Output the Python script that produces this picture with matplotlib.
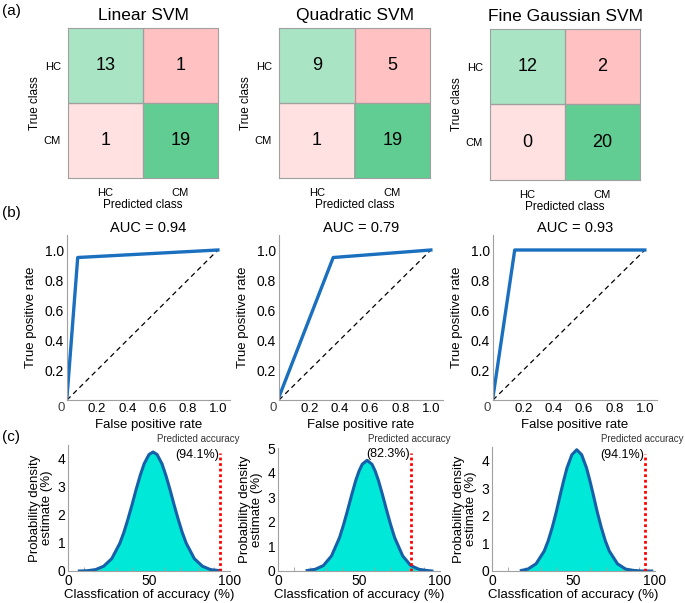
import matplotlib.pyplot as plt
from matplotlib.colors import ListedColormap

plt.rcParams['font.family'] = ['Liberation Sans', 'DejaVu Sans']

# --- data ---
models = ['Linear SVM', 'Quadratic SVM', 'Fine Gaussian SVM']
classes = ['HC', 'CM']
conf_linear = [[13, 1], [1, 19]]
conf_quadratic = [[9, 5], [1, 19]]
conf_gaussian = [[12, 2], [0, 20]]

fpr_linear = [0, 0.071, 1.0]
tpr_linear = [0.02, 0.95, 1.0]
fpr_quadratic = [0, 0.357, 1.0]
tpr_quadratic = [0.02, 0.95, 1.0]
fpr_gaussian = [0, 0.143, 1.0]
tpr_gaussian = [0.02, 1.0, 1.0]
auc = [0.94, 0.79, 0.93]

acc_x_linear = [7, 12, 17, 22, 27, 32, 34.5, 37, 39.5, 42, 44.5, 47, 50, 52.5, 55, 58,
                60.5, 63, 65.5, 68, 70.5, 73, 78, 83, 88, 94]
acc_y_linear = [0.0, 0.01, 0.05, 0.17, 0.44, 0.99, 1.38, 1.85, 2.36, 2.90, 3.40, 3.83,
                4.16, 4.25, 4.16, 3.83, 3.40, 2.90, 2.36, 1.85, 1.38, 0.99, 0.44, 0.17,
                0.05, 0.01]
acc_x_quadratic = [18, 23, 28, 33, 38, 40.5, 43, 45.5, 48, 50, 52, 55, 58, 60, 62, 64.5,
                   67, 69.5, 72, 77, 82, 87, 92, 95]
acc_y_quadratic = [0.02, 0.07, 0.22, 0.61, 1.36, 1.89, 2.48, 3.10, 3.68, 4.06, 4.34, 4.50,
                   4.34, 4.06, 3.68, 3.10, 2.48, 1.89, 1.36, 0.61, 0.22, 0.07, 0.02, 0.0]
acc_x_gaussian = [18, 22, 27, 32, 34.5, 37, 39.5, 42, 44, 46, 49, 52, 55, 58, 60, 62,
                  64.5, 67, 69.5, 72, 77, 82, 87, 92, 98]
acc_y_gaussian = [0.02, 0.07, 0.26, 0.72, 1.10, 1.59, 2.16, 2.80, 3.29, 3.74, 4.22, 4.40,
                  4.22, 3.74, 3.29, 2.80, 2.16, 1.59, 1.10, 0.72, 0.26, 0.07, 0.02, 0.0,
                  0.0]
predicted_acc = [94.1, 82.3, 94.1]
pred_line_top = [4.2, 4.8, 4.25]
density_ymax = [4.5, 5, 4.5]

confs = [conf_linear, conf_quadratic, conf_gaussian]
rocs = [(fpr_linear, tpr_linear), (fpr_quadratic, tpr_quadratic), (fpr_gaussian, tpr_gaussian)]
dens = [(acc_x_linear, acc_y_linear), (acc_x_quadratic, acc_y_quadratic),
        (acc_x_gaussian, acc_y_gaussian)]

W, H = 685, 603
fig = plt.figure(figsize=(W / 100, H / 100), dpi=100)


def box(l, t, r, b):
    return [l / W, 1 - b / H, (r - l) / W, (b - t) / H]


cm_boxes = [(68, 28, 218, 178), (279, 28, 430, 178), (490, 29, 640, 180)]
roc_boxes = [(67, 235, 230, 400), (279, 235, 443, 400), (493, 235, 657, 400)]
den_boxes = [(68, 445, 230, 571), (278, 448, 440, 571), (492, 447, 655, 571)]

cell_cmap = ListedColormap(['#a9e5c5', '#ffc1c1', '#ffe1e1', '#62cd92'])
gray = '#a0a0a0'

# (a) confusion matrices
for i in range(3):
    ax = fig.add_axes(box(*cm_boxes[i]))
    ax.imshow([[0, 1], [2, 3]], cmap=cell_cmap, vmin=0, vmax=3, aspect='auto')
    for r in range(2):
        for c in range(2):
            ax.text(c, r, str(confs[i][r][c]), ha='center', va='center', fontsize=13)
    ax.axhline(0.5, color=gray, lw=1)
    ax.axvline(0.5, color=gray, lw=1)
    for s in ax.spines.values():
        s.set_color(gray)
    ax.set_xticks([0, 1])
    ax.set_xticklabels(classes, fontsize=8)
    ax.set_yticks([0, 1])
    ax.set_yticklabels(classes, fontsize=8)
    ax.tick_params(length=0, pad=5)
    ax.tick_params(axis='x', pad=7)
    ax.set_xlabel('Predicted class', fontsize=8.5, labelpad=1)
    ax.set_ylabel('True class', fontsize=8.5, labelpad=2)
    ax.set_title(models[i], fontsize=12.5, pad=6)

# (b) ROC curves
for i in range(3):
    ax = fig.add_axes(box(*roc_boxes[i]))
    ax.plot([0, 1], [0, 1], 'k--', lw=0.9, dashes=(4, 3))
    ax.plot(rocs[i][0], rocs[i][1], color='#1a6fbf', lw=2.4)
    ax.set_xlim(0, 1.08)
    ax.set_ylim(0, 1.1)
    ax.set_xticks([0.2, 0.4, 0.6, 0.8, 1.0])
    ax.set_xticklabels(['0.2', '0.4', '0.6', '0.8', '1.0'], fontsize=9.5)
    ax.set_yticks([0.2, 0.4, 0.6, 0.8, 1.0])
    ax.set_yticklabels(['0.2', '0.4', '0.6', '0.8', '1.0'], fontsize=10)
    ax.tick_params(length=0, pad=2)
    ax.text(-0.035, -0.012, '0', transform=ax.transAxes, ha='center', va='top',
            fontsize=9.5, color='#444444')
    for s in ['top', 'right']:
        ax.spines[s].set_visible(False)
    for s in ['left', 'bottom']:
        ax.spines[s].set_color(gray)
    ax.set_xlabel('False positive rate', fontsize=9.5, labelpad=3)
    ax.set_ylabel('True positive rate', fontsize=9.5, labelpad=6)
    ax.set_title('AUC = %.2f' % auc[i], fontsize=10.5, pad=2)

# (c) accuracy distributions
for i in range(3):
    ax = fig.add_axes(box(*den_boxes[i]))
    x, y = dens[i]
    ax.fill_between(x, y, 0, color='#00e8d8', lw=0)
    ax.plot(x, y, color='#1560a8', lw=2.2, solid_joinstyle='round')
    ax.plot([predicted_acc[i], predicted_acc[i]], [0, pred_line_top[i]], color='red',
            lw=2, ls=(0, (1, 1)))
    ax.text(predicted_acc[i] - 1, pred_line_top[i] - 0.05, '(%.1f%%)' % predicted_acc[i],
            ha='right', va='center', fontsize=9)
    ax.set_xlim(0, 100)
    ax.set_ylim(0, density_ymax[i])
    ax.set_xticks([0, 50, 100])
    ax.set_xticks(range(10, 100, 10), minor=True)
    ax.set_yticks(range(0, int(density_ymax[i]) + 1))
    ax.tick_params(labelsize=10, length=0, pad=2)
    ax.tick_params(axis='x', which='minor', direction='in', length=3, color=gray)
    for s in ['top', 'right']:
        ax.spines[s].set_visible(False)
    for s in ['left', 'bottom']:
        ax.spines[s].set_color(gray)
    ax.set_xlabel('Classfication of accuracy (%)', fontsize=9.5, labelpad=1)
    ax.set_ylabel('Probability density\nestimate (%)', fontsize=9.5, labelpad=3,
                  linespacing=1.0)

# "Predicted accuracy" notes
for xpx in [157, 368, 601]:
    fig.text(xpx / W, 1 - 439 / H, 'Predicted accuracy', fontsize=7, color='#333333',
             va='center')

# panel letters
fig.text(2 / W, 1 - 11 / H, '(a)', fontsize=11, va='center')
fig.text(2 / W, 1 - 213 / H, '(b)', fontsize=11, va='center')
fig.text(2 / W, 1 - 437 / H, '(c)', fontsize=11, va='center')

fig.savefig('out.png', dpi=100)
